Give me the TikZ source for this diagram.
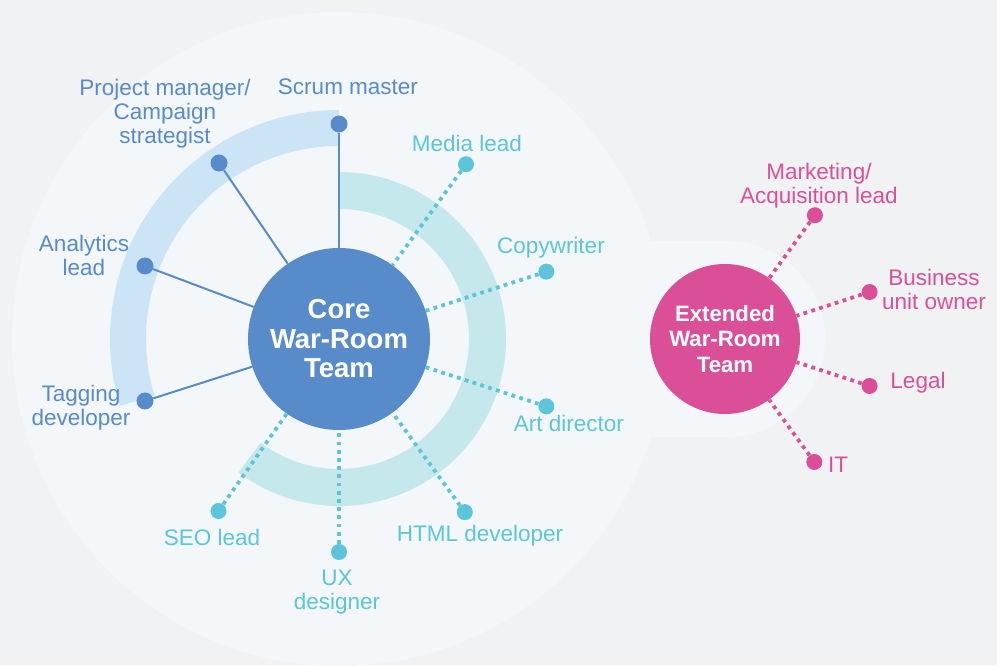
\documentclass[tikz,border=0pt]{standalone}
\usepackage{fontspec}
\setmainfont{Liberation Sans}
\usetikzlibrary{calc}

\definecolor{PageGrey}{HTML}{F1F2F4}
\definecolor{Panel}{HTML}{F3F7FA}
\definecolor{CoreBlue}{HTML}{588BC9}
\definecolor{RingBlue}{HTML}{CBE4F6}
\definecolor{Teal}{HTML}{5CC5D9}
\definecolor{RingTeal}{HTML}{C5E8ED}
\definecolor{Pink}{HTML}{DB4F98}

\tikzset{
  teamdot/.style={circle, fill=#1, inner sep=0, minimum size=16pt},
  role/.style={text=#1, align=center, inner sep=0, font=\fontsize{22.5}{24}\selectfont},
  hub/.style={circle, fill=#1, inner sep=0, text=white, align=center},
  solidlink/.style={CoreBlue, line width=2pt},
  dotlink/.style={#1, line width=3.8pt, dash pattern=on 3.8pt off 4.4pt},
}

\begin{document}
\begin{tikzpicture}[x=1pt, y=1pt]

  \useasboundingbox (0,0) rectangle (997,665);
  \clip (0,0) rectangle (997,665);
  \fill[PageGrey] (0,0) rectangle (997,665);

  \coordinate (C) at (339,326);
  \coordinate (E) at (725,326);

  % pale panel behind both teams
  \fill[Panel] (C) circle (327pt);
  \fill[Panel] (600,228) rectangle (727,424);
  \fill[Panel] (727,326) circle (98pt);

  % the two rings round the core
  \draw[RingBlue, line width=36pt] ($(C)+(90:211)$) arc (90:197:211);
  \draw[RingTeal, line width=37pt] ($(C)+(90:148.5)$) arc (90:-127:148.5);

  \node[hub=CoreBlue, minimum size=182pt, font=\bfseries\fontsize{27.5}{29.5}\selectfont] (core) at (C) {Core\\War-Room\\Team};
  \node[hub=Pink, minimum size=150pt, font=\bfseries\fontsize{22.2}{25.5}\selectfont] (ext) at (E) {Extended\\War-Room\\Team};

  % core members
  \node[teamdot=CoreBlue, minimum size=17pt] (scrumdot) at (339,541) {};
  \node[teamdot=CoreBlue, minimum size=17pt] (pmdot) at (219,502) {};
  \node[teamdot=CoreBlue, minimum size=17pt] (analyticsdot) at (145,399) {};
  \node[teamdot=CoreBlue, minimum size=17pt] (taggingdot) at (145,264) {};
  \draw[solidlink] (scrumdot) -- (core);
  \draw[solidlink] (pmdot) -- (core);
  \draw[solidlink] (analyticsdot) -- (core);
  \draw[solidlink] (taggingdot) -- (core);

  \node[role=CoreBlue] (scrum) at (348,578) {Scrum master};
  \node[role=CoreBlue] (pm) at (165,551) {Project manager/\\Campaign\\strategist};
  \node[role=CoreBlue] (analytics) at (84,410) {Analytics\\lead};
  \node[role=CoreBlue] (tagging) at (81,257) {Tagging\\developer};

  % creative and build members
  \node[teamdot=Teal] (mediadot) at ($(C)+(54:216)$) {};
  \node[teamdot=Teal] (copydot) at ($(C)+(18:218)$) {};
  \node[teamdot=Teal] (artdot) at ($(C)+(-18:218)$) {};
  \node[teamdot=Teal] (htmldot) at ($(C)+(-54:214)$) {};
  \node[teamdot=Teal] (uxdot) at ($(C)+(-90:213)$) {};
  \node[teamdot=Teal] (seodot) at ($(C)+(-125:210)$) {};
  \draw[dotlink=Teal] (mediadot) -- (core);
  \draw[dotlink=Teal] (copydot) -- (core);
  \draw[dotlink=Teal] (artdot) -- (core);
  \draw[dotlink=Teal] (htmldot) -- (core);
  \draw[dotlink=Teal] (uxdot) -- (core);
  \draw[dotlink=Teal] (seodot) -- (core);

  \node[role=Teal] (media) at (467,522) {Media lead};
  \node[role=Teal] (copy) at (551,417) {Copywriter};
  \node[role=Teal] (art) at (569,242) {Art director};
  \node[role=Teal] (html) at (480,129) {HTML developer};
  \node[role=Teal] (ux) at (337,73) {UX\\designer};
  \node[role=Teal] (seo) at (212,128) {SEO lead};

  % extended members
  \node[teamdot=Pink] (mktdot) at ($(E)+(54:153)$) {};
  \node[teamdot=Pink] (bizdot) at ($(E)+(18:152)$) {};
  \node[teamdot=Pink] (legaldot) at ($(E)+(-18:152)$) {};
  \node[teamdot=Pink] (itdot) at ($(E)+(-54:152)$) {};
  \draw[dotlink=Pink] (mktdot) -- (ext);
  \draw[dotlink=Pink] (bizdot) -- (ext);
  \draw[dotlink=Pink] (legaldot) -- (ext);
  \draw[dotlink=Pink] (itdot) -- (ext);

  \node[role=Pink] (mkt) at (819,479) {Marketing/\\Acquisition lead};
  \node[role=Pink] (biz) at (934,376) {Business\\unit owner};
  \node[role=Pink] (legal) at (918,282) {Legal};
  \node[role=Pink] (it) at (838,200) {IT};

\end{tikzpicture}
\end{document}
